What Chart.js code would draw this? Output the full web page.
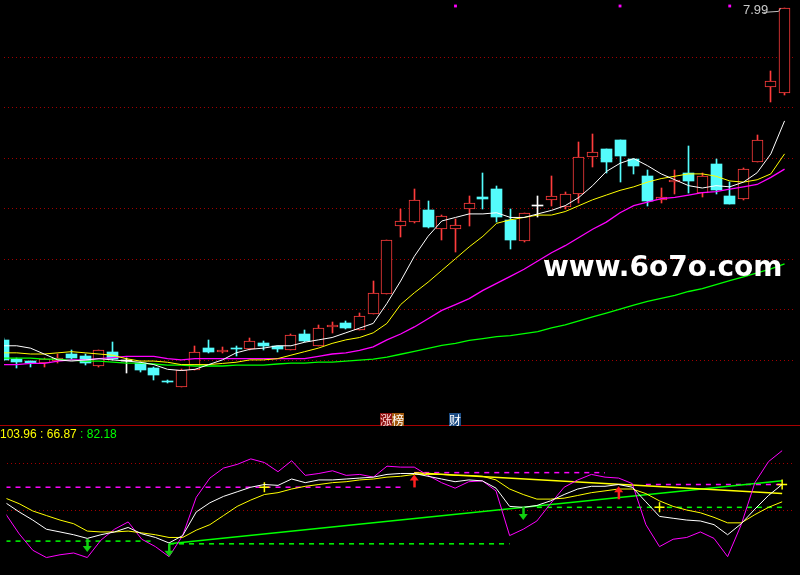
<!DOCTYPE html>
<html><head><meta charset="utf-8">
<script src="https://cdn.jsdelivr.net/npm/chart.js@4/dist/chart.umd.min.js"></script>
<style>
html,body{margin:0;padding:0;background:#000;width:800px;height:575px;overflow:hidden;}
#wrap{position:relative;width:800px;height:575px;background:#000;}
canvas{position:absolute;left:0;}
#topc{top:0;} #botc{top:425px;}
.t{position:absolute;white-space:nowrap;}
.cj{display:inline-block;width:12px;height:13px;font:12px 'Noto Sans CJK SC';line-height:13px;text-align:center;}
</style></head><body><div id="wrap">
<canvas id="topc" width="800" height="425"></canvas>
<canvas id="botc" width="800" height="150"></canvas>
<div class="t" style="left:0;top:425px;width:800px;height:1px;background:#a80000"></div>
<div class="t" style="left:0;top:427px;font:12px 'Liberation Sans';line-height:14px;"><span style="color:#ffff00">103.96 : 66.87 </span><span style="color:#00ff00">: 82.18</span></div>
<div class="t" style="left:380px;top:411px;"><span class="cj" style="background:#8c1010;color:#ffd8d8">涨</span><span class="cj" style="background:#a0580c;color:#ffffff">榜</span></div>
<div class="t" style="left:449px;top:411px;"><span class="cj" style="background:#1c4c84;color:#ffffff">财</span></div>
<div class="t" style="left:543px;top:253px;font:bold 28px 'DejaVu Sans';line-height:28px;color:#ffffff;">www.6o7o.com</div>
<div class="t" style="left:743px;top:3px;font:13px 'Liberation Sans';line-height:13px;color:#c8c8c8;">7.99</div>
</div>
<script>
const dayIndex = [0,1,2,3,4,5,6,7,8,9,10,11,12,13,14,15,16,17,18,19,20,21,22,23,24,25,26,27,28,29,30,31,32,33,34,35,36,37,38,39,40,41,42,43,44,45,46,47,48,49,50,51,52,53,54,55,56,57];
const openP  = [5.17,5.01,4.99,4.97,4.99,5.05,5.03,4.95,5.07,4.99,4.97,4.93,4.82,4.77,4.91,5.10,5.07,5.10,5.09,5.14,5.12,5.08,5.22,5.12,5.28,5.31,5.25,5.39,5.56,6.14,6.17,6.27,6.11,6.11,6.28,6.38,6.45,6.19,6.01,6.31,6.36,6.30,6.41,6.72,6.79,6.87,6.71,6.56,6.36,6.51,6.59,6.42,6.66,6.39,6.37,6.68,7.32,7.27];
const highP  = [5.19,5.02,4.99,5.02,5.05,5.08,5.05,5.08,5.15,5.02,4.98,4.94,4.83,4.92,5.12,5.17,5.11,5.12,5.19,5.16,5.12,5.22,5.25,5.30,5.32,5.33,5.40,5.67,6.02,6.28,6.45,6.35,6.23,6.20,6.39,6.59,6.48,6.28,6.25,6.39,6.56,6.43,6.85,6.92,6.79,6.87,6.71,6.61,6.46,6.61,6.82,6.59,6.71,6.51,6.63,6.91,7.45,7.99];
const lowP   = [4.99,4.93,4.94,4.94,4.97,5.00,4.96,4.94,5.00,4.89,4.90,4.83,4.80,4.77,4.91,5.06,5.06,5.03,5.08,5.08,5.07,5.08,5.15,5.12,5.23,5.26,5.25,5.39,5.56,6.04,6.16,6.12,6.02,5.92,6.14,6.28,6.17,5.94,6.00,6.21,6.31,6.28,6.33,6.64,6.59,6.51,6.58,6.31,6.33,6.41,6.42,6.38,6.41,6.32,6.36,6.68,7.19,7.25];
const closeP = [5.00,4.98,4.97,5.01,5.02,5.02,4.97,5.08,5.01,4.99,4.91,4.87,4.81,4.91,5.07,5.07,5.08,5.09,5.16,5.12,5.09,5.21,5.16,5.27,5.30,5.27,5.37,5.57,6.02,6.18,6.36,6.13,6.22,6.15,6.33,6.37,6.21,6.02,6.25,6.31,6.39,6.41,6.72,6.77,6.68,6.73,6.65,6.35,6.38,6.53,6.52,6.56,6.44,6.32,6.62,6.87,7.37,7.99];
const ma5  = [5.12,5.12,5.10,5.05,5.00,4.99,5.00,5.01,5.00,4.99,4.98,4.96,4.92,4.91,4.92,4.96,5.00,5.06,5.09,5.10,5.12,5.12,5.15,5.17,5.19,5.23,5.27,5.31,5.48,5.67,5.88,6.05,6.18,6.21,6.24,6.24,6.25,6.21,6.21,6.24,6.27,6.31,6.38,6.48,6.60,6.67,6.71,6.65,6.58,6.53,6.48,6.46,6.48,6.47,6.51,6.59,6.75,7.03];
const ma10 = [5.06,5.06,5.05,5.05,5.06,5.07,5.06,5.05,5.04,5.01,4.99,4.99,4.98,4.96,4.96,4.96,4.97,4.98,5.00,5.00,5.01,5.04,5.07,5.10,5.14,5.17,5.19,5.23,5.31,5.47,5.57,5.66,5.76,5.86,5.96,6.05,6.16,6.19,6.21,6.23,6.23,6.26,6.31,6.36,6.40,6.44,6.47,6.51,6.54,6.56,6.58,6.58,6.56,6.52,6.51,6.53,6.58,6.75];
const ma20 = [4.96,4.96,4.97,4.97,4.99,5.00,5.00,5.01,5.02,5.03,5.03,5.03,5.01,5.00,5.01,5.01,5.01,5.01,5.01,5.01,5.01,5.01,5.01,5.03,5.05,5.06,5.08,5.11,5.17,5.22,5.28,5.35,5.42,5.47,5.52,5.59,5.65,5.71,5.77,5.84,5.91,5.97,6.04,6.11,6.17,6.25,6.31,6.34,6.37,6.38,6.40,6.42,6.43,6.45,6.47,6.49,6.55,6.62];
const ma60 = [5.015,5.015,5.015,5.006,5.006,4.998,4.990,4.990,4.981,4.973,4.973,4.965,4.956,4.956,4.948,4.948,4.948,4.956,4.956,4.956,4.965,4.973,4.973,4.981,4.981,4.990,4.998,5.006,5.023,5.048,5.073,5.098,5.123,5.140,5.165,5.181,5.198,5.206,5.223,5.240,5.273,5.298,5.331,5.365,5.398,5.431,5.465,5.498,5.523,5.548,5.581,5.606,5.640,5.673,5.706,5.740,5.773,5.815];
const priceGrid = [7.57,7.14,6.713,6.288,5.855,5.43,4.997];
const topMarkIdx = [33,45,53];

const lineJ = [15.3,-10.6,-31.8,-41.2,-37.6,-35.3,-41.2,-18.8,-4.7,4.7,-17.6,-27.1,-40.0,-12.9,36.5,61.2,74.1,78.8,85.9,81.2,69.4,83.5,64.7,67.1,70.6,64.7,65.9,62.4,76.5,75.3,75.3,64.7,55.3,48.2,56.5,57.6,44.7,-12.9,-4.7,5.9,28.2,49.4,58.8,65.9,62.4,61.2,54.1,1.2,-27.1,-17.6,-15.3,-8.2,-16.5,-40.0,1.2,55.3,82.4,96.5];
const lineK = [29.4,17.6,7.1,-4.7,-8.2,-11.8,-16.5,-11.8,-8.2,-2.4,-10.6,-15.3,-22.4,-12.9,17.6,29.4,37.6,43.5,49.4,52.9,51.8,60.0,55.3,58.8,58.8,60.0,61.2,62.4,65.9,67.1,67.1,63.5,60.0,56.5,58.8,57.6,48.2,24.7,23.5,25.9,31.8,40.0,47.1,50.6,50.6,52.9,49.4,30.6,11.8,9.4,7.1,5.9,1.2,-11.8,2.4,21.2,38.8,52.9];
const lineD = [35.3,28.2,18.8,12.9,7.1,2.4,-7.1,-8.2,-8.2,-7.1,-9.4,-11.8,-15.3,-15.3,-5.9,1.2,12.9,24.7,32.9,40.0,42.4,47.1,50.6,52.9,55.3,56.5,58.8,60.0,62.4,63.5,65.9,65.9,65.9,64.7,64.7,63.5,58.8,47.1,40.0,34.1,34.1,35.3,38.8,42.4,44.7,47.1,47.1,41.2,31.8,24.7,20.0,16.5,10.6,3.5,3.5,14.1,23.5,30.6];
const levelGrid = [80,20];
const yellowTrendIdx = [30,57], yellowTrendVal = [68.2,41.2];
const greenTrendIdx = [12,57], greenTrendVal = [-23.5,57.6];
const magLevelFrom = [0,30,47], magLevelTo = [29,44,57], magLevelVal = [49.4,68.2,52.9];
const grnLevelFrom = [0,12,39], grnLevelTo = [11,37,57], grnLevelVal = [-20.0,-23.5,23.5];
const downArrowIdx = [6,12,38], downArrowVal = [-34.1,-40.0,7.1];
const upArrowIdx = [30,45], upArrowVal = [65.9,50.6];
const yellowMarkIdx = [19,48,57], yellowMarkVal = [49.4,23.5,52.9];

const UP='#ff3c3c', DN='#54fcfc', EQ='#ffffff';
function cColor(i){ return closeP[i]>openP[i]?UP:(closeP[i]<openP[i]?DN:EQ); }
const X_MIN = 0.072, X_MAX = 57.834;

function makeX(){ return {type:'linear', min:X_MIN, max:X_MAX, offset:false, display:false, grid:{offset:false}}; }

// snap candle bar elements to whole pixels so edges stay crisp
const snapPlugin = {
  id:'snap',
  afterDatasetUpdate(chart, args){
    const meta = args.meta;
    if(meta.type !== 'bar') return;
    meta.data.forEach(el=>{
      el.x = Math.floor(el.x) + 0.5;
      el.y = Math.round(el.y);
      el.base = Math.round(el.base);
      if(Math.abs(el.base - el.y) < 1) el.base = el.y + 1;
    });
  }
};

const pointerPlugin = {
  id:'pointer',
  afterDatasetsDraw(chart){
    const {ctx, scales:{x,y}} = chart;
    let mi = 0; highP.forEach((v,i)=>{ if(v>highP[mi]) mi=i; });
    const px = x.getPixelForValue(mi), py = y.getPixelForValue(highP[mi]);
    ctx.save(); ctx.strokeStyle='#c0c0c0'; ctx.lineWidth=1;
    ctx.beginPath(); ctx.moveTo(px-21, py+4.5); ctx.lineTo(px-6, py+3.5); ctx.lineTo(px-4, py+0.5); ctx.stroke();
    ctx.restore();
  }
};

new Chart(document.getElementById('topc'), {
  type:'bar',
  data:{ datasets:[
    {type:'line', data:dayIndex.map(i=>({x:i,y:ma5[i]})), borderColor:'#ffffff', borderWidth:1, pointRadius:0, order:0},
    {type:'line', data:dayIndex.map(i=>({x:i,y:ma10[i]})), borderColor:'#ffff00', borderWidth:1, pointRadius:0, order:0},
    {type:'line', data:dayIndex.map(i=>({x:i,y:ma20[i]})), borderColor:'#ff00ff', borderWidth:1.3, pointRadius:0, order:0},
    {type:'line', data:dayIndex.map(i=>({x:i,y:ma60[i]})), borderColor:'#00ff00', borderWidth:1.3, pointRadius:0, order:0},
    {type:'line', showLine:false, data:topMarkIdx.map(i=>({x:i,y:8.006})), pointStyle:'rect', pointRadius:2, pointBackgroundColor:'#ff00ff', pointBorderWidth:0, clip:false, order:0},
    {type:'bar', data:dayIndex.map(i=>({x:i,y:[openP[i],closeP[i]]})), grouped:false, barThickness:11, minBarLength:1,
      backgroundColor:c=>closeP[c.dataIndex]>openP[c.dataIndex]?'#000000':cColor(c.dataIndex),
      borderColor:c=>cColor(c.dataIndex), borderWidth:c=>closeP[c.dataIndex]>openP[c.dataIndex]?1:0, borderSkipped:false, order:1},
    {type:'bar', data:dayIndex.map(i=>({x:i,y:[lowP[i],highP[i]]})), grouped:false, barThickness:1, minBarLength:1,
      backgroundColor:c=>cColor(c.dataIndex), borderWidth:0, order:2}
  ]},
  options:{
    responsive:false, animation:false, events:[],
    layout:{padding:0},
    plugins:{legend:{display:false}, tooltip:{enabled:false}},
    scales:{
      x:makeX(),
      y:{type:'linear', min:4.481, max:8.023, position:'left',
         ticks:{display:false}, grid:{color:'#a00000', lineWidth:1, drawTicks:false},
         border:{display:false, dash:[1,3]},
         afterBuildTicks:ax=>{ ax.ticks = priceGrid.map(v=>({value:v})); },
         afterFit:ax=>{ ax.width = 0; } }
    }
  },
  plugins:[snapPlugin, pointerPlugin]
});

function seg(from,to,v){ return [{x:from,y:v},{x:to,y:v}]; }
const botSets = [];
botSets.push({data:dayIndex.map(i=>({x:i,y:lineK[i]})), borderColor:'#ffffff', borderWidth:1, pointRadius:0, order:0});
botSets.push({data:dayIndex.map(i=>({x:i,y:lineD[i]})), borderColor:'#ffff00', borderWidth:1, pointRadius:0, order:1});
botSets.push({data:dayIndex.map(i=>({x:i,y:lineJ[i]})), borderColor:'#ff00ff', borderWidth:1, pointRadius:0, order:2});
botSets.push({data:yellowTrendIdx.map((x,k)=>({x, y:yellowTrendVal[k]})), borderColor:'#ffff00', borderWidth:1.5, pointRadius:0, order:3});
botSets.push({data:greenTrendIdx.map((x,k)=>({x, y:greenTrendVal[k]})), borderColor:'#00ff00', borderWidth:1.5, pointRadius:0, order:3});
magLevelVal.forEach((v,k)=>botSets.push({data:seg(magLevelFrom[k],magLevelTo[k],v), borderColor:'#ff00ff', borderWidth:1.5, borderDash:[5,5], pointRadius:0, order:4}));
grnLevelVal.forEach((v,k)=>botSets.push({data:seg(grnLevelFrom[k],grnLevelTo[k],v), borderColor:'#00ff00', borderWidth:1.5, borderDash:[5,5], pointRadius:0, order:4}));
botSets.push({showLine:false, data:yellowMarkIdx.map((x,k)=>({x, y:yellowMarkVal[k]})), pointStyle:'cross', pointRadius:5, pointBorderColor:'#ffff00', pointBorderWidth:1.5, order:0});

function drawArrow(ctx, px, py, dir, color){
  ctx.fillStyle=color; ctx.beginPath();
  ctx.moveTo(px, py); ctx.lineTo(px-4.5, py-dir*6); ctx.lineTo(px+4.5, py-dir*6); ctx.closePath(); ctx.fill();
  if(dir>0) ctx.fillRect(px-1, py-13, 2.5, 7.5); else ctx.fillRect(px-1, py+5.5, 2.5, 7.5);
}
const arrowPlugin = {
  id:'arrows',
  afterDatasetsDraw(chart){
    const {ctx, scales:{x,y}} = chart; ctx.save();
    downArrowIdx.forEach((i,k)=>drawArrow(ctx, x.getPixelForValue(i), y.getPixelForValue(downArrowVal[k]), 1, '#10d010'));
    upArrowIdx.forEach((i,k)=>drawArrow(ctx, x.getPixelForValue(i), y.getPixelForValue(upArrowVal[k]), -1, '#ff2020'));
    ctx.restore();
  }
};

new Chart(document.getElementById('botc'), {
  type:'line',
  data:{datasets:botSets},
  options:{
    responsive:false, animation:false, events:[],
    layout:{padding:0},
    plugins:{legend:{display:false}, tooltip:{enabled:false}},
    scales:{
      x:makeX(),
      y:{type:'linear', min:-55.29, max:121.18, position:'left',
         ticks:{display:false}, grid:{color:'#a00000', lineWidth:1, drawTicks:false},
         border:{display:false, dash:[1,3]},
         afterBuildTicks:ax=>{ ax.ticks = levelGrid.map(v=>({value:v})); },
         afterFit:ax=>{ ax.width = 0; } }
    }
  },
  plugins:[arrowPlugin]
});
</script>
</body></html>
